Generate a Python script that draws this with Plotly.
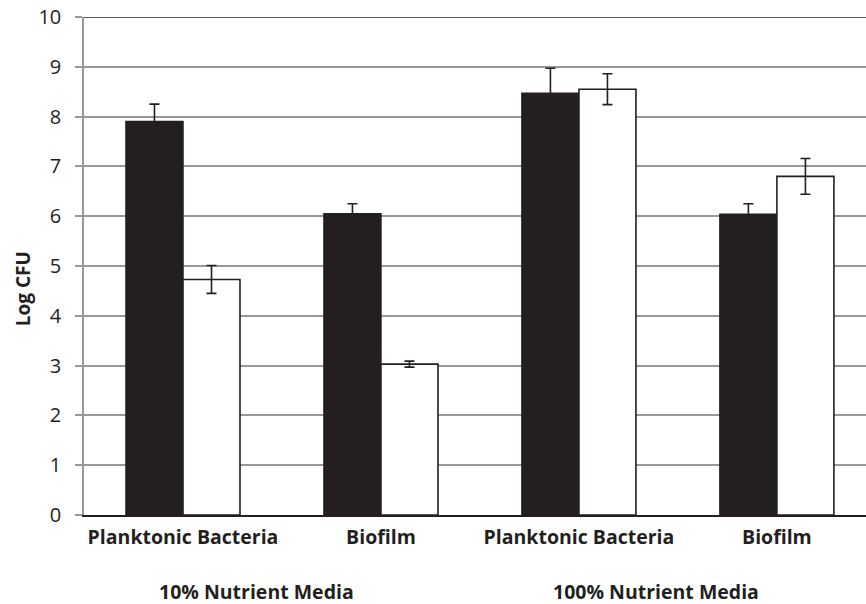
import plotly.graph_objects as go

# Bacterial counts (log CFU) by sample type and nutrient level
categories = ["Planktonic Bacteria", "Biofilm", "Planktonic Bacteria", "Biofilm"]
group_labels = ["10% Nutrient Media", "100% Nutrient Media"]
dark_values = [7.90, 6.05, 8.47, 6.04]
dark_errors = [0.35, 0.20, 0.50, 0.21]
light_values = [4.73, 3.03, 8.55, 6.80]
light_errors = [0.28, 0.06, 0.31, 0.36]
y_ticks = [0, 1, 2, 3, 4, 5, 6, 7, 8, 9, 10]

INK = "#231f20"
GRID = "#989898"
FONT = "Open Sans"

x_pos = list(range(len(categories)))

fig = go.Figure()
fig.add_trace(go.Bar(
    x=x_pos, y=dark_values,
    marker=dict(color=INK, line=dict(color=INK, width=1.5)),
    error_y=dict(type="data", array=dark_errors, visible=True,
                 color=INK, thickness=1.6, width=5),
    hoverinfo="skip", showlegend=False,
))
fig.add_trace(go.Bar(
    x=x_pos, y=light_values,
    marker=dict(color="#ffffff", line=dict(color=INK, width=1.6)),
    error_y=dict(type="data", array=light_errors, visible=True,
                 color=INK, thickness=1.6, width=5),
    hoverinfo="skip", showlegend=False,
))

# group captions under each pair of categories
for xc, text in zip([0.37, 2.39], group_labels):
    fig.add_annotation(x=xc, y=-0.153, xref="x", yref="paper",
                       text=f"<b>{text}</b>", showarrow=False,
                       xanchor="center", yanchor="middle",
                       font=dict(family=FONT, size=19.5, color=INK))

# vertical axis caption
fig.add_annotation(x=-0.077, y=0.455, xref="paper", yref="paper",
                   text="<b>Log CFU</b>", showarrow=False, textangle=-90,
                   xanchor="center", yanchor="middle",
                   font=dict(family=FONT, size=19, color=INK))

# dark frame line along the top of the plotting area
fig.add_shape(type="line", xref="paper", yref="y", x0=0, x1=1, y0=10, y1=10,
              line=dict(color=INK, width=1.6), layer="above")

fig.update_layout(
    width=866, height=604,
    margin=dict(l=84, r=0, t=17, b=89),
    paper_bgcolor="white", plot_bgcolor="white",
    barmode="group", bargap=0.424, bargroupgap=0,
    font=dict(family=FONT, color=INK),
    xaxis=dict(
        range=[-0.5, 3.45],
        tickmode="array", tickvals=x_pos,
        ticktext=[f"<b>{c}</b>" for c in categories],
        tickfont=dict(family=FONT, size=19.5, color=INK),
        ticklabelstandoff=4,
        showgrid=False, zeroline=False,
        showline=True, linecolor=INK, linewidth=1.6,
        ticks="",
    ),
    yaxis=dict(
        range=[0, 10],
        tickmode="array", tickvals=y_ticks,
        tickfont=dict(family=FONT, size=20, color=INK),
        ticklabelstandoff=10,
        showgrid=True, gridcolor=GRID, gridwidth=1.5,
        zeroline=False,
        showline=True, linecolor=GRID, linewidth=1.5,
        ticks="outside", ticklen=7, tickcolor=GRID, tickwidth=1.5,
    ),
)

fig.write_html("out.html")
